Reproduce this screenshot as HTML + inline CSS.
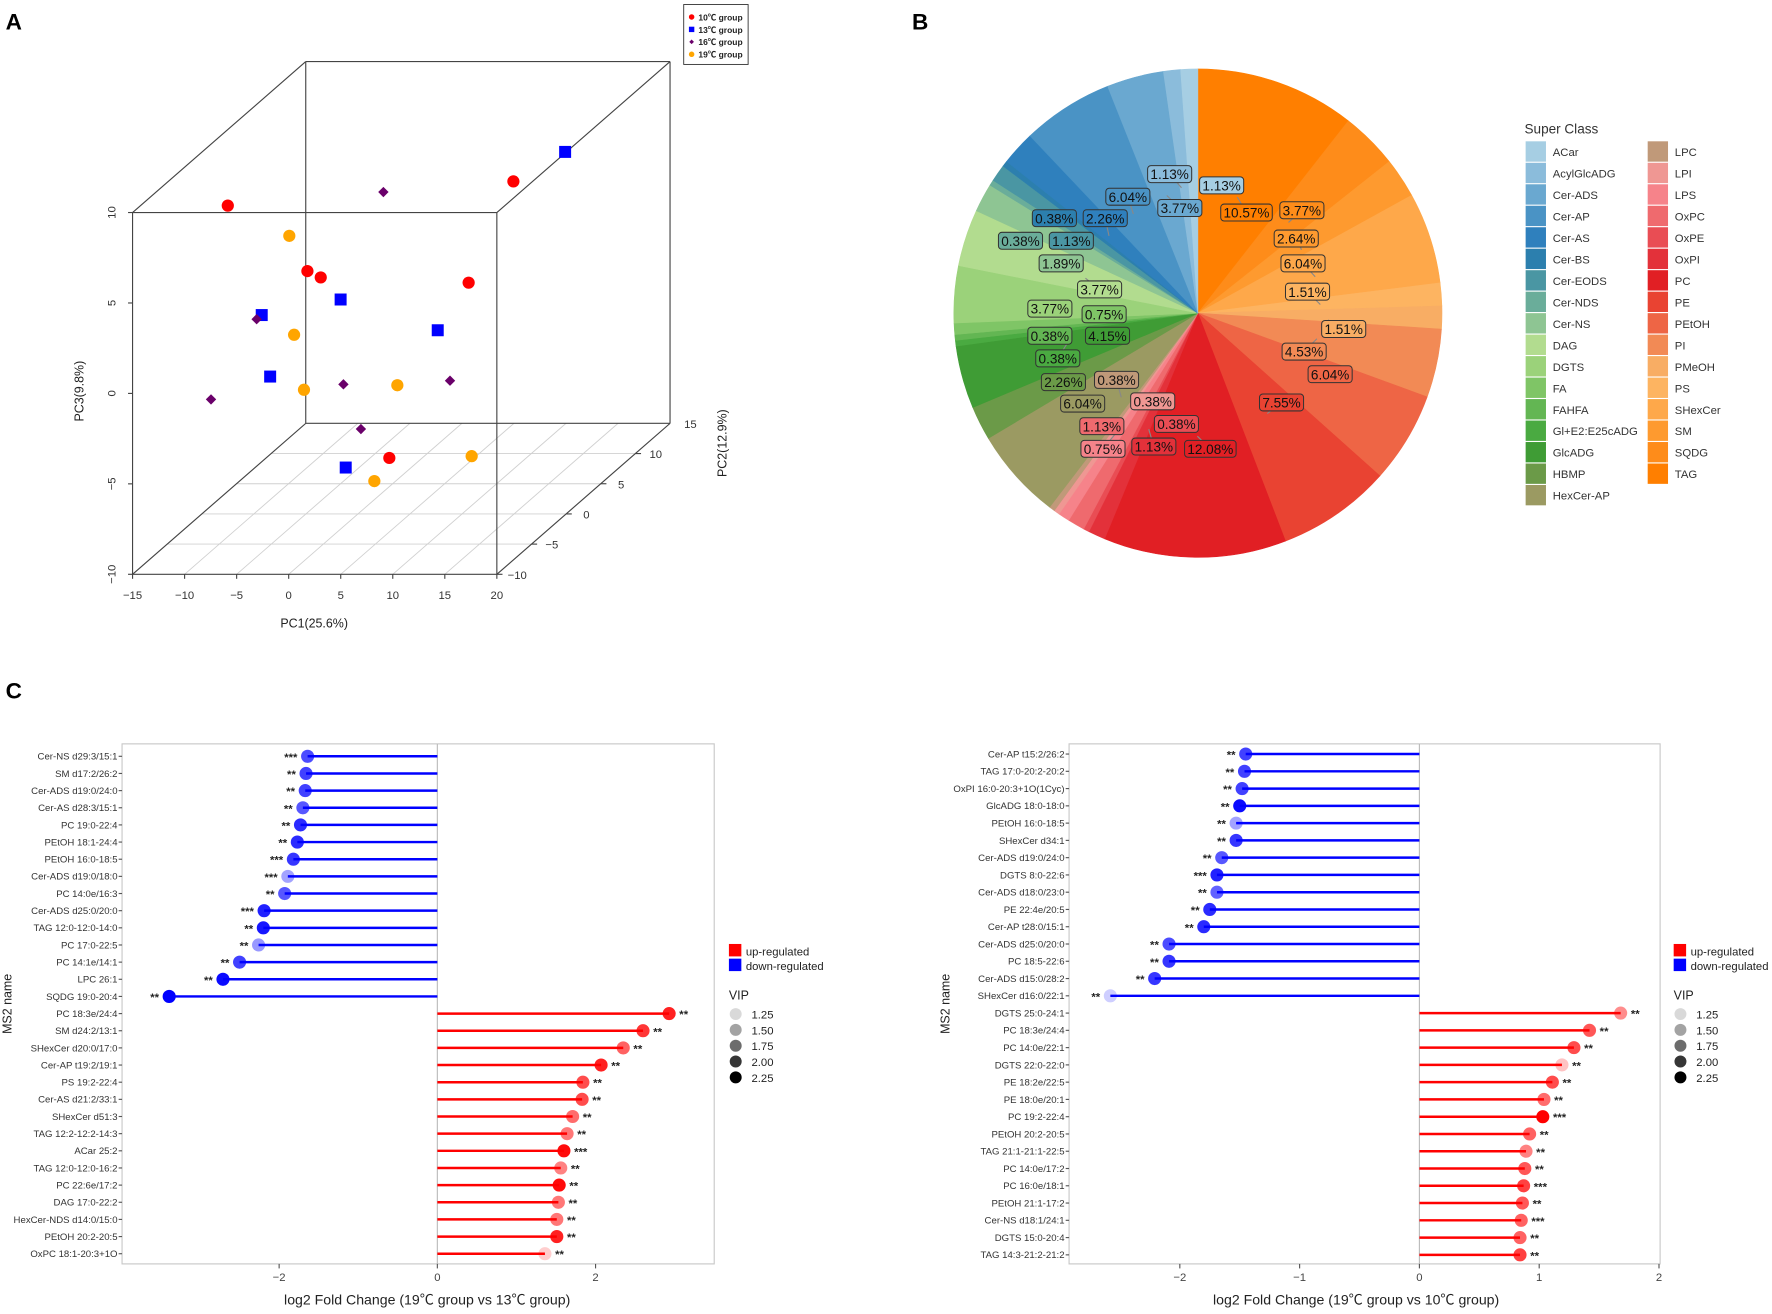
<!DOCTYPE html>
<html><head><meta charset="utf-8">
<style>
html,body{margin:0;padding:0;background:#fff;}
#wrap{width:1568px;height:1157px;transform:scale(1.1301,1.1305);transform-origin:0 0;position:relative;}
svg{font-family:"Liberation Sans","Noto Sans CJK SC",sans-serif;}
</style></head>
<body>
<div id="wrap">
<svg id="fig" width="1568" height="1157" viewBox="0 0 1568 1157">
<text x="5" y="26" font-size="20" font-weight="bold">A</text>
<text x="807" y="26" font-size="20" font-weight="bold">B</text>
<text x="5" y="618" font-size="20" font-weight="bold">C</text>
</svg>
</div>
<script>
// ---------- Panel A data (PCA) ----------
const pcaGroups = ['10℃ group','13℃ group','16℃ group','19℃ group'];
const pc1_10 = [-14.17,-6.52,-5.24,8.97,13.27,1.35];
const pc2_10 = [2.5,2.5,2.5,2.5,2.5,2.5];
const pc3_10 = [6.21,2.59,2.24,1.95,7.55,-7.74];
const pc1_13 = [-10.91,-3.33,6.0,-10.10,-2.84,18.24];
const pc2_13 = [2.5,2.5,2.5,2.5,2.5,2.5];
const pc3_13 = [0.16,1.02,-0.68,-3.24,-8.27,9.18];
const pc1_16 = [-11.40,0.78,-10.79,-3.06,7.18,-1.38];
const pc2_16 = [2.5,2.5,-5,2.5,2.5,2.5];
const pc3_16 = [-0.07,6.96,-2.0,-3.67,-3.47,-6.14];
const pc1_19 = [-8.26,-7.80,-6.85,2.12,9.26,-0.09];
const pc2_19 = [2.5,2.5,2.5,2.5,2.5,2.5];
const pc3_19 = [4.54,-0.93,-3.97,-3.72,-7.64,-9.02];
const pc1Ticks = [-15,-10,-5,0,5,10,15,20];
const pc2Ticks = [-10,-5,0,5,10,15];
const pc3Ticks = [-10,-5,0,5,10];

// ---------- Panel B data (pie) ----------
const pieClasses = ['TAG','SQDG','SM','SHexCer','PS','PMeOH','PI','PEtOH','PE','PC','OxPI','OxPE','OxPC','LPS','LPI','LPC','HexCer-AP','HBMP','GlcADG','Gl+E2:E25cADG','FAHFA','FA','DGTS','DAG','Cer-NS','Cer-NDS','Cer-EODS','Cer-BS','Cer-AS','Cer-AP','Cer-ADS','AcylGlcADG','ACar'];
const pieValues = [10.57,3.77,2.64,6.04,1.51,1.51,4.53,6.04,7.55,12.08,1.13,0.38,1.13,0.75,0.38,0.38,6.04,2.26,4.15,0.38,0.38,0.75,3.77,3.77,1.89,0.38,1.13,0.38,2.26,6.04,3.77,1.13,1.13];
const legendLeft = ['ACar','AcylGlcADG','Cer-ADS','Cer-AP','Cer-AS','Cer-BS','Cer-EODS','Cer-NDS','Cer-NS','DAG','DGTS','FA','FAHFA','Gl+E2:E25cADG','GlcADG','HBMP','HexCer-AP'];
const legendRight = ['LPC','LPI','LPS','OxPC','OxPE','OxPI','PC','PE','PEtOH','PI','PMeOH','PS','SHexCer','SM','SQDG','TAG'];

// ---------- Panel C data ----------
const leftNames = ['Cer-NS d29:3/15:1','SM d17:2/26:2','Cer-ADS d19:0/24:0','Cer-AS d28:3/15:1','PC 19:0-22:4','PEtOH 18:1-24:4','PEtOH 16:0-18:5','Cer-ADS d19:0/18:0','PC 14:0e/16:3','Cer-ADS d25:0/20:0','TAG 12:0-12:0-14:0','PC 17:0-22:5','PC 14:1e/14:1','LPC 26:1','SQDG 19:0-20:4','PC 18:3e/24:4','SM d24:2/13:1','SHexCer d20:0/17:0','Cer-AP t19:2/19:1','PS 19:2-22:4','Cer-AS d21:2/33:1','SHexCer d51:3','TAG 12:2-12:2-14:3','ACar 25:2','TAG 12:0-12:0-16:2','PC 22:6e/17:2','DAG 17:0-22:2','HexCer-NDS d14:0/15:0','PEtOH 20:2-20:5','OxPC 18:1-20:3+1O'];
const leftFC = [-1.64,-1.66,-1.67,-1.70,-1.73,-1.77,-1.82,-1.89,-1.93,-2.19,-2.20,-2.26,-2.50,-2.71,-3.39,2.93,2.60,2.35,2.07,1.84,1.83,1.71,1.64,1.60,1.56,1.54,1.53,1.51,1.51,1.36];
const leftVIP = [1.9,1.95,1.95,1.85,2.05,2.05,2.0,1.5,1.85,2.1,2.15,1.55,1.95,2.2,2.25,2.1,2.0,1.8,2.1,1.9,1.9,1.75,1.7,2.2,1.65,2.2,1.7,1.7,2.1,1.3];
const leftSig = ['***','**','**','**','**','**','***','***','**','***','**','**','**','**','**','**','**','**','**','**','**','**','**','***','**','**','**','**','**','**'];
const rightNames = ['Cer-AP t15:2/26:2','TAG 17:0-20:2-20:2','OxPI 16:0-20:3+1O(1Cyc)','GlcADG 18:0-18:0','PEtOH 16:0-18:5','SHexCer d34:1','Cer-ADS d19:0/24:0','DGTS 8:0-22:6','Cer-ADS d18:0/23:0','PE 22:4e/20:5','Cer-AP t28:0/15:1','Cer-ADS d25:0/20:0','PC 18:5-22:6','Cer-ADS d15:0/28:2','SHexCer d16:0/22:1','DGTS 25:0-24:1','PC 18:3e/24:4','PC 14:0e/22:1','DGTS 22:0-22:0','PE 18:2e/22:5','PE 18:0e/20:1','PC 19:2-22:4','PEtOH 20:2-20:5','TAG 21:1-21:1-22:5','PC 14:0e/17:2','PC 16:0e/18:1','PEtOH 21:1-17:2','Cer-NS d18:1/24:1','DGTS 15:0-20:4','TAG 14:3-21:2-21:2'];
const rightFC = [-1.45,-1.46,-1.48,-1.50,-1.53,-1.53,-1.65,-1.69,-1.69,-1.75,-1.80,-2.09,-2.09,-2.21,-2.58,1.68,1.42,1.29,1.19,1.11,1.04,1.03,0.92,0.89,0.88,0.87,0.86,0.85,0.84,0.84];
const rightVIP = [1.95,1.95,1.95,2.2,1.5,2.0,1.85,2.1,1.8,2.05,2.05,1.9,2.0,2.0,1.3,1.6,1.85,1.9,1.35,1.9,1.75,2.25,1.8,1.65,1.85,1.95,1.85,1.8,1.8,1.95];
const rightSig = ['**','**','**','**','**','**','**','***','**','**','**','**','**','**','**','**','**','**','**','**','**','***','**','**','**','***','**','***','**','**'];
const vipLegend = [1.25,1.50,1.75,2.00,2.25];

const NS='http://www.w3.org/2000/svg';
const svg=document.getElementById('fig');
function mk(tag,attrs,parent){const e=document.createElementNS(NS,tag);for(const k in attrs)e.setAttribute(k,attrs[k]);(parent||svg).appendChild(e);return e;}
function txt(s,attrs,parent){const e=mk('text',attrs,parent);e.textContent=s;return e;}

// ================= Panel A =================
const gA=mk('g',{});


function proj(x,y,z){return [117.3+(x+15)*9.21+(y+10)*6.13, 508-(z+10)*16-(y+10)*5.34];}
function line3(a,b,stroke,w,name){const p=proj(...a),q=proj(...b);const l=mk('line',{x1:p[0],y1:p[1],x2:q[0],y2:q[1],stroke:stroke,'stroke-width':w},gA);return l;}
pc1Ticks.forEach(t=>{line3([t,-10,-10],[t,15,-10],'#d0d0d0',0.8,'floor-grid-line');});
[-5,0,5,10].forEach(t=>{line3([-15,t,-10],[20,t,-10],'#d0d0d0',0.8,'floor-grid-line');});
const E=[[[-15,-10,-10],[20,-10,-10]],[[-15,-10,10],[20,-10,10]],[[-15,-10,-10],[-15,-10,10]],[[20,-10,-10],[20,-10,10]],
[[-15,15,-10],[20,15,-10]],[[-15,15,10],[20,15,10]],[[-15,15,-10],[-15,15,10]],[[20,15,-10],[20,15,10]],
[[-15,-10,-10],[-15,15,-10]],[[20,-10,-10],[20,15,-10]],[[-15,-10,10],[-15,15,10]],[[20,-10,10],[20,15,10]]];
E.forEach(e=>line3(e[0],e[1],'#444',1,'box-edge'));
pc1Ticks.forEach(t=>{const p=proj(t,-10,-10);mk('line',{x1:p[0],y1:p[1],x2:p[0],y2:p[1]+4,stroke:'#444'},gA);
 const l=txt(String(t).replace('-','−'),{x:p[0],y:p[1]+22,'font-size':10,'text-anchor':'middle',fill:'#333'},gA);});
pc3Ticks.forEach(t=>{const p=proj(-15,-10,t);mk('line',{x1:p[0]-4,y1:p[1],x2:p[0],y2:p[1],stroke:'#444'},gA);
 const l=txt(String(t).replace('-','−'),{x:0,y:0,'font-size':10,'text-anchor':'middle',fill:'#333',transform:`translate(${p[0]-15},${p[1]}) rotate(-90)`},gA);});
pc2Ticks.forEach(t=>{const p=proj(20,t,-10);if(t<15)mk('line',{x1:p[0],y1:p[1],x2:p[0]+5,y2:p[1],stroke:'#444'},gA);
 const l=txt(String(t).replace('-','−'),{x:p[0]+18,y:p[1]+4,'font-size':10,'text-anchor':'middle',fill:'#333'},gA);});
let t1=txt('PC1(25.6%)',{x:278,y:555,'font-size':11,'text-anchor':'middle',fill:'#222'},gA);
let t2=txt('PC2(12.9%)',{x:0,y:0,'font-size':11,'text-anchor':'middle',fill:'#222',transform:'translate(643,392) rotate(-90)'},gA);
let t3=txt('PC3(9.8%)',{x:0,y:0,'font-size':11,'text-anchor':'middle',fill:'#222',transform:'translate(74,346) rotate(-90)'},gA);
function marker(kind,cx,cy,col,s,parent){
 if(kind==='circle')return mk('circle',{cx:cx,cy:cy,r:5.4*s,fill:col},parent);
 if(kind==='square')return mk('rect',{x:cx-5.3*s,y:cy-5.3*s,width:10.6*s,height:10.6*s,fill:col},parent);
 return mk('polygon',{points:`${cx},${cy-4.6*s} ${cx+4.6*s},${cy} ${cx},${cy+4.6*s} ${cx-4.6*s},${cy}`,fill:col},parent);
}
const grpDefs=[[pc1_10,pc2_10,pc3_10,'#ff0000','circle'],[pc1_13,pc2_13,pc3_13,'#0000ff','square'],[pc1_16,pc2_16,pc3_16,'#6a006a','diamond'],[pc1_19,pc2_19,pc3_19,'#ffa500','circle']];
grpDefs.forEach((g,gi)=>{g[0].forEach((x,i)=>{const p=proj(x,g[1][i],g[2][i]);const m=marker(g[4],p[0],p[1],g[3],1,gA);
 
 });});
const lgA=mk('g',{},gA);
mk('rect',{x:605,y:4,width:57,height:53,fill:'#fff',stroke:'#333','stroke-width':0.8},lgA);
pcaGroups.forEach((n,i)=>{const y=15+i*11;marker(grpDefs[i][4],612,y,grpDefs[i][3],0.45,lgA);
 const l=txt(n,{x:618,y:y+3,'font-size':7.5,'font-weight':'bold',fill:'#222'},lgA);});

// ================= Panel B =================
const colors={'ACar':'#a6cee3','AcylGlcADG':'#8bbcdb','Cer-ADS':'#6aa8d0','Cer-AP':'#4a93c5','Cer-AS':'#2f80bd','Cer-BS':'#2c7fae','Cer-EODS':'#4a96a3','Cer-NDS':'#6aad9a','Cer-NS':'#8ec593','DAG':'#b2dc8f','DGTS':'#9bd27a','FA':'#7fc566','FAHFA':'#63b653','Gl+E2:E25cADG':'#4aaa41','GlcADG':'#3f9c35','HBMP':'#6b9a48','HexCer-AP':'#9b9a62','LPC':'#c09979','LPI':'#ef9793','LPS':'#f6838a','OxPC':'#ef6a6e','OxPE':'#e94d54','OxPI':'#e3313a','PC':'#e11f24','PE':'#e94332','PEtOH':'#ee6545','PI':'#f28a55','PMeOH':'#f8ad64','PS':'#fdb461','SHexCer':'#fea84a','SM':'#fe9a2f','SQDG':'#fe8c1a','TAG':'#ff7f00'};
const labelPos=[[1103,188],[1152,186],[1147,211],[1153,233],[1157,258],[1189,291],[1154,311],[1177,331],[1134,356],[1071,397],[1021,395],[1041,375],[975,377],[976,397],[1020,355],[988,336],[958,357],[941,338],[980,297],[936,317],[929,297],[977,278],[929,273],[973,256],[939,233],[903,213],[948,213],[933,193],[978,193],[998,174],[1044,184],[1035,154],[1081,164]];
const gB=mk('g',{});
const CX=1060,CY=277,R=216;
const total=pieValues.reduce((a,b)=>a+b,0);
let cum=0;
const mids=[];
pieValues.forEach((v,i)=>{const a0=cum/total*2*Math.PI;cum+=v;const a1=cum/total*2*Math.PI;
 const x0=CX+R*Math.sin(a0),y0=CY-R*Math.cos(a0),x1=CX+R*Math.sin(a1),y1=CY-R*Math.cos(a1);
 const large=(a1-a0)>Math.PI?1:0;
 const p=mk('path',{d:`M${CX},${CY} L${x0},${y0} A${R},${R} 0 ${large} 1 ${x1},${y1} Z`,fill:colors[pieClasses[i]],stroke:colors[pieClasses[i]],'stroke-width':0.5},gB);
 
 
 mids.push((a0+a1)/2);});
pieValues.forEach((v,i)=>{const lp=labelPos[i];const a=mids[i];const rr=R*0.5;
 const ax=CX+rr*Math.sin(a),ay=CY-rr*Math.cos(a);
 const dx=lp[0]-ax,dy=lp[1]-ay;const d=Math.hypot(dx,dy);const k=Math.min(1,10/(d||1));
 mk('line',{x1:lp[0]-dx*k*1.6,y1:lp[1]-dy*k*1.6,x2:lp[0],y2:lp[1],stroke:'#888','stroke-width':1},gB);});
pieValues.forEach((v,i)=>{const lp=labelPos[i];const s=v.toFixed(2)+'%';const w=s.length*6.6+6;
 const g=mk('g',{},gB);
 mk('rect',{x:lp[0]-w/2,y:lp[1]-7.5,width:w,height:15,rx:3,fill:colors[pieClasses[i]],stroke:'#333','stroke-width':0.9},g);
 txt(s,{x:lp[0],y:lp[1]+4.5,'font-size':12,'text-anchor':'middle',fill:'#111'},g);});
const lgB=mk('g',{});
let lt=txt('Super Class',{x:1349,y:118,'font-size':12,fill:'#333'},lgB);
legendLeft.forEach((n,i)=>{const y=125+i*19;mk('rect',{x:1350,y:y,width:18,height:18,fill:colors[n]},lgB);
 const l=txt(n,{x:1374,y:y+13,'font-size':10,fill:'#333'},lgB);});
legendRight.forEach((n,i)=>{const y=125+i*19;mk('rect',{x:1458,y:y,width:18,height:18,fill:colors[n]},lgB);
 const l=txt(n,{x:1482,y:y+13,'font-size':10,fill:'#333'},lgB);});

// ================= Panel C =================
function vipAlpha(v){return Math.max(0.12,Math.min(1,0.15+(v-1.25)*0.85));}
function lolli(cfg){
 const g=mk('g',{});
 const xs=v=>cfg.zero+v*cfg.unit;
 const n=cfg.names.length;const ys=i=>cfg.y0+i*(cfg.y1-cfg.y0)/(n-1);
 const box=mk('rect',{x:cfg.bx0,y:658,width:cfg.bx1-cfg.bx0,height:460,fill:'none',stroke:'#c8c8c8','stroke-width':1},g);
 
 mk('line',{x1:xs(0),y1:658,x2:xs(0),y2:1118,stroke:'#bbb','stroke-width':1},g);
 cfg.ticks.forEach(t=>{mk('line',{x1:xs(t),y1:1118,x2:xs(t),y2:1122,stroke:'#555'},g);
  const l=txt(String(t).replace('-','−'),{x:xs(t),y:1133,'font-size':10,'text-anchor':'middle',fill:'#444'},g);});
 cfg.names.forEach((nm,i)=>{const y=ys(i);const v=cfg.fc[i];const col=v<0?'#0000ff':'#ff0000';
  mk('line',{x1:cfg.bx0-3,y1:y,x2:cfg.bx0,y2:y,stroke:'#555'},g);
  const l=txt(nm,{x:cfg.bx0-4,y:y+3,'font-size':8.5,'text-anchor':'end',fill:'#333'},g);
  const ln=mk('line',{x1:xs(0),y1:y,x2:xs(v),y2:y,stroke:col,'stroke-width':2.2},g);
  const c=mk('circle',{cx:xs(v),cy:y,r:5.8,fill:col,'fill-opacity':vipAlpha(cfg.vip[i])},g);
  const st=txt(cfg.sig[i],{x:v<0?xs(v)-9:xs(v)+9,y:y+4,'font-size':10,'font-weight':'bold','text-anchor':v<0?'end':'start',fill:'#222'},g);});
 const xt=txt(cfg.title,{x:cfg.tx,y:1154,'font-size':12.5,'text-anchor':'middle',fill:'#222'},g);
 const yt=txt('MS2 name',{x:0,y:0,'font-size':11,'text-anchor':'middle',fill:'#222',transform:`translate(${cfg.ylx},888) rotate(-90)`},g);
 const lx=cfg.lx;
 const lg=mk('g',{},g);
 mk('rect',{x:lx,y:835,width:11,height:11,fill:'#ff0000'},lg);txt('up-regulated',{x:lx+15,y:845,'font-size':10,fill:'#222'},lg);
 mk('rect',{x:lx,y:848,width:11,height:11,fill:'#0000ff'},lg);txt('down-regulated',{x:lx+15,y:858,'font-size':10,fill:'#222'},lg);
 const lv=mk('g',{},g);
 txt('VIP',{x:lx,y:884,'font-size':11,fill:'#222'},lv);
 vipLegend.forEach((v,i)=>{const y=897+i*14;mk('circle',{cx:lx+6,cy:y,r:5.3,fill:'#000','fill-opacity':vipAlpha(v)},lv);
  txt(v.toFixed(2),{x:lx+20,y:y+4,'font-size':10,fill:'#222'},lv);});
}
lolli({name:'lollipop-19c-vs-13c',names:leftNames,fc:leftFC,vip:leftVIP,sig:leftSig,zero:387,unit:70,bx0:108,bx1:632,y0:669,y1:1109,ticks:[-2,0,2],title:'log2 Fold Change (19℃ group vs 13℃ group)',tx:378,ylx:10,lx:645});
lolli({name:'lollipop-19c-vs-10c',names:rightNames,fc:rightFC,vip:rightVIP,sig:rightSig,zero:1256,unit:106,bx0:946,bx1:1469,y0:667,y1:1110,ticks:[-2,-1,0,1,2],title:'log2 Fold Change (19℃ group vs 10℃ group)',tx:1200,ylx:840,lx:1481});
</script>
</body></html>
